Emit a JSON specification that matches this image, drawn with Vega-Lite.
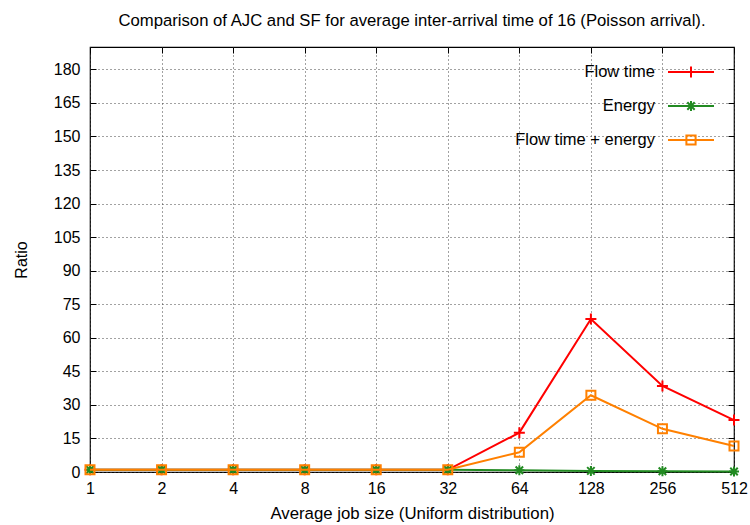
{
  "$schema": "https://vega.github.io/schema/vega-lite/v6.json",
  "width": 644,
  "height": 425,
  "autosize": "none",
  "padding": {"left": 90, "top": 47, "right": 16, "bottom": 53},
  "background": "#ffffff",
  "title": {
    "text": "Comparison of AJC and SF for average inter-arrival time of 16 (Poisson arrival).",
    "font": "Liberation Sans",
    "fontSize": 16.7,
    "fontWeight": "normal",
    "color": "#000000",
    "anchor": "middle",
    "offset": 17
  },
  "config": {
    "view": {"stroke": "#000000", "strokeWidth": 1.2},
    "font": "Liberation Sans",
    "axis": {
      "domain": false,
      "labelFont": "Liberation Sans",
      "labelFontSize": 16,
      "labelColor": "#000000",
      "titleFont": "Liberation Sans",
      "titleFontSize": 16.5,
      "titleFontWeight": "normal",
      "titleColor": "#000000",
      "tickColor": "#000000",
      "tickSize": -6,
      "tickWidth": 1,
      "gridColor": "#444444",
      "gridDash": [1, 3],
      "gridWidth": 1,
      "gridOpacity": 1,
      "labelFlush": false,
      "labelOverlap": false
    }
  },
  "data": {
    "values": [
      {"size": 1, "series": "Flow time", "ratio": 1.0},
      {"size": 2, "series": "Flow time", "ratio": 1.0},
      {"size": 4, "series": "Flow time", "ratio": 1.0},
      {"size": 8, "series": "Flow time", "ratio": 1.0},
      {"size": 16, "series": "Flow time", "ratio": 1.0},
      {"size": 32, "series": "Flow time", "ratio": 1.0},
      {"size": 64, "series": "Flow time", "ratio": 17.6},
      {"size": 128, "series": "Flow time", "ratio": 68.4},
      {"size": 256, "series": "Flow time", "ratio": 38.5},
      {"size": 512, "series": "Flow time", "ratio": 23.2},
      {"size": 1, "series": "Energy", "ratio": 1.0},
      {"size": 2, "series": "Energy", "ratio": 1.0},
      {"size": 4, "series": "Energy", "ratio": 1.0},
      {"size": 8, "series": "Energy", "ratio": 1.0},
      {"size": 16, "series": "Energy", "ratio": 1.0},
      {"size": 32, "series": "Energy", "ratio": 1.0},
      {"size": 64, "series": "Energy", "ratio": 0.8},
      {"size": 128, "series": "Energy", "ratio": 0.5},
      {"size": 256, "series": "Energy", "ratio": 0.3},
      {"size": 512, "series": "Energy", "ratio": 0.2},
      {"size": 1, "series": "Flow time + energy", "ratio": 1.0},
      {"size": 2, "series": "Flow time + energy", "ratio": 1.0},
      {"size": 4, "series": "Flow time + energy", "ratio": 1.0},
      {"size": 8, "series": "Flow time + energy", "ratio": 1.0},
      {"size": 16, "series": "Flow time + energy", "ratio": 1.0},
      {"size": 32, "series": "Flow time + energy", "ratio": 1.0},
      {"size": 64, "series": "Flow time + energy", "ratio": 8.8},
      {"size": 128, "series": "Flow time + energy", "ratio": 34.3},
      {"size": 256, "series": "Flow time + energy", "ratio": 19.3},
      {"size": 512, "series": "Flow time + energy", "ratio": 11.6}
    ]
  },
  "encoding": {
    "x": {
      "field": "size",
      "type": "quantitative",
      "scale": {"type": "log", "base": 2, "domain": [1, 512], "nice": false}
    },
    "y": {
      "field": "ratio",
      "type": "quantitative",
      "scale": {"domain": [0, 190], "nice": false, "zero": true}
    }
  },
  "layer": [
    {
      "transform": [{"filter": "datum.series === 'Flow time'"}],
      "mark": {"type": "line", "strokeWidth": 2},
      "encoding": {
        "x": {
          "field": "size",
          "type": "quantitative",
          "axis": {
            "orient": "bottom",
            "values": [1, 2, 4, 8, 16, 32, 64, 128, 256, 512],
            "format": "d",
            "title": "Average job size (Uniform distribution)",
            "titleFontSize": 16.8,
            "labelPadding": 14,
            "titlePadding": 9,
            "grid": true
          }
        },
        "y": {
          "field": "ratio",
          "type": "quantitative",
          "axis": {
            "orient": "left",
            "values": [0, 15, 30, 45, 60, 75, 90, 105, 120, 135, 150, 165, 180],
            "title": "Ratio",
            "titleFontSize": 16,
            "labelPadding": 16,
            "titlePadding": 24,
            "grid": true
          }
        },
        "color": {
          "field": "series",
          "type": "nominal",
          "scale": {
            "domain": ["Flow time", "Energy", "Flow time + energy"],
            "range": ["#ff0000", "#228b22", "#ff8000"]
          },
          "legend": {
            "orient": "none",
            "legendX": 577,
            "legendY": 1,
            "title": null,
            "padding": 0,
            "symbolType": "M-1,0H1",
            "symbolSize": 100,
            "symbolStrokeWidth": 2,
            "labelAlign": "right",
            "labelOffset": -60,
            "labelFont": "Liberation Sans",
            "labelFontSize": 16.5,
            "labelColor": "#000000",
            "labelLimit": 400,
            "rowPadding": 0,
            "encoding": {
              "symbols": {
                "shape": {"value": {"expr": "datum.value === 'Flow time' ? 'M-1,0H1M0,-0.24V0.24' : datum.value === 'Energy' ? 'M-1,0H1M0,-0.22V0.22M-0.16,-0.16L0.16,0.16M-0.16,0.16L0.16,-0.16' : 'M-1,0H1M-0.2,-0.2H0.2V0.2H-0.2Z'"}},
                "size": {"value": 2116},
                "fill": {"value": "transparent"},
                "strokeWidth": {"value": 2},
                "opacity": {"value": 1}
              }
            }
          }
        }
      }
    },
    {
      "transform": [{"filter": "datum.series === 'Flow time'"}],
      "mark": {"type": "point", "shape": "M-1.1,0H1.1M0,-1.1V1.1", "filled": false, "size": 100, "strokeWidth": 2, "opacity": 1},
      "encoding": {
        "x": {
          "field": "size",
          "type": "quantitative",
          "axis": {
            "orient": "top",
            "values": [1, 2, 4, 8, 16, 32, 64, 128, 256, 512],
            "labels": false,
            "grid": false,
            "title": null
          }
        },
        "y": {
          "field": "ratio",
          "type": "quantitative",
          "axis": {
            "orient": "right",
            "values": [0, 15, 30, 45, 60, 75, 90, 105, 120, 135, 150, 165, 180],
            "labels": false,
            "grid": false,
            "title": null
          }
        },
        "color": {"field": "series", "type": "nominal", "legend": null}
      }
    },
    {
      "transform": [{"filter": "datum.series === 'Energy'"}],
      "mark": {"type": "line", "strokeWidth": 2},
      "encoding": {
        "x": {"field": "size", "type": "quantitative", "axis": null},
        "y": {"field": "ratio", "type": "quantitative", "axis": null},
        "color": {"field": "series", "type": "nominal", "legend": null}
      }
    },
    {
      "transform": [{"filter": "datum.series === 'Energy'"}],
      "mark": {"type": "point", "shape": "M-1,0H1M0,-1V1M-0.75,-0.75L0.75,0.75M-0.75,0.75L0.75,-0.75", "filled": false, "size": 100, "strokeWidth": 2, "opacity": 1},
      "encoding": {
        "x": {"field": "size", "type": "quantitative", "axis": null},
        "y": {"field": "ratio", "type": "quantitative", "axis": null},
        "color": {"field": "series", "type": "nominal", "legend": null}
      }
    },
    {
      "transform": [{"filter": "datum.series === 'Flow time + energy'"}],
      "mark": {"type": "line", "strokeWidth": 2},
      "encoding": {
        "x": {"field": "size", "type": "quantitative", "axis": null},
        "y": {"field": "ratio", "type": "quantitative", "axis": null},
        "color": {"field": "series", "type": "nominal", "legend": null}
      }
    },
    {
      "transform": [{"filter": "datum.series === 'Flow time + energy'"}],
      "mark": {"type": "point", "shape": "M-0.9,-0.9H0.9V0.9H-0.9Z", "filled": false, "size": 100, "strokeWidth": 2, "opacity": 1},
      "encoding": {
        "x": {"field": "size", "type": "quantitative", "axis": null},
        "y": {"field": "ratio", "type": "quantitative", "axis": null},
        "color": {"field": "series", "type": "nominal", "legend": null}
      }
    }
  ],
  "resolve": {"axis": {"x": "independent", "y": "independent"}}
}
